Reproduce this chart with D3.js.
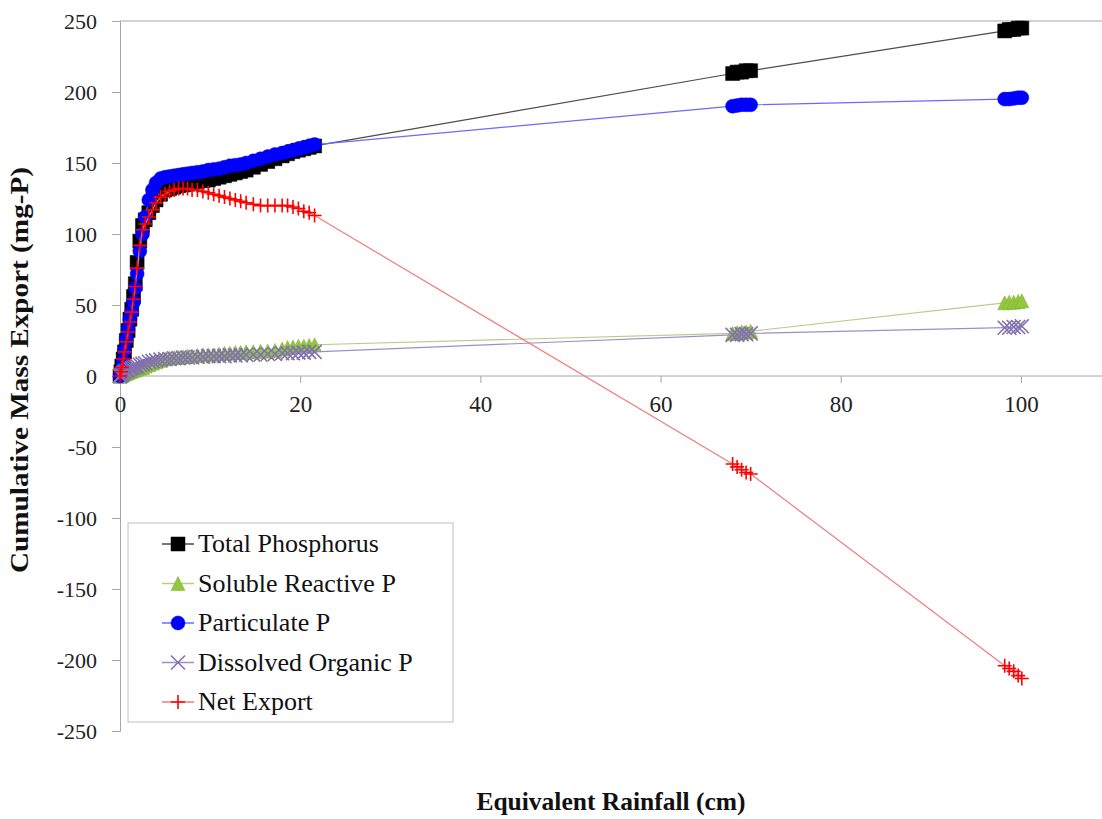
<!DOCTYPE html>
<html>
<head>
<meta charset="utf-8">
<script src="https://cdn.jsdelivr.net/npm/d3@7"></script>
<style>
  body { margin: 0; background: #fff; }
  svg { display: block; }
  svg text { font-family: "Liberation Serif", "Times New Roman", serif !important; }
</style>
</head>
<body>
<div class="graphContainer"></div>
<script>
// shared x values (equivalent rainfall, cm)
var rainfall = [0, 0.1, 0.2, 0.35, 0.5, 0.7, 0.9, 1.1, 1.3, 1.5, 1.7, 1.9, 2.2, 2.5, 2.8, 3.2, 3.6, 4.0, 4.5, 5.0,
    5.5, 6.0, 6.5, 7.0, 7.5, 8.0, 8.6, 9.2, 9.8, 10.4, 11.0, 11.6, 12.2, 12.8, 13.4, 14.0, 14.8, 15.6, 16.4, 17.2,
    18.0, 18.6, 19.2, 19.8, 20.4, 21.0, 21.6, 68.0, 68.5, 69.0, 69.5, 70.0, 98.2, 98.7, 99.2, 99.7, 100.1];

var totalP = [0, 3, 7, 12, 17, 25, 32, 40, 47, 56, 65, 80, 95, 106, 110, 115, 120, 124, 128, 131,
    132, 133, 134, 134.5, 135, 136, 137, 137.5, 138, 139, 140, 141, 142, 143, 144, 145, 147, 149, 151, 153,
    155, 156.5, 158, 159, 160, 161, 162, 213, 214, 214, 215, 215, 243, 244, 244, 245, 245];

var solubleP = [0, 0, 0.5, 1, 1.5, 2, 2.5, 3, 3.5, 4, 4.5, 5, 5.5, 6, 7, 8, 9, 10, 11, 12,
    12.5, 13, 13, 13.5, 14, 14, 14.5, 15, 15, 15, 15.5, 16, 16, 16.5, 16.5, 17, 17, 17.5, 17.5, 18,
    19, 20, 20.5, 21, 21, 21.5, 22, 30, 30.5, 31, 31, 31.5, 51.5, 52, 52, 52.5, 53];

var particulateP = [0, 2, 5, 10, 18, 26, 33, 40, 45, 52, 62, 72, 88, 100, 112, 124, 131, 136, 139, 140,
    140.5, 141, 141.5, 142, 142.5, 143, 143.5, 144, 145, 145.5, 146, 147, 148, 148.5, 149, 150, 151.5, 153, 154.5, 156,
    157, 158, 159, 160, 161, 162, 163, 190, 190.5, 191, 191, 191, 195, 195, 195.5, 196, 196];

var organicP = [0, 0.5, 1, 2, 3, 3.5, 4, 5, 5.5, 6, 6.5, 7, 8, 8.5, 9, 10, 10.5, 11, 11.5, 12,
    12, 12.5, 12.5, 13, 13, 13, 13.5, 13.5, 14, 14, 14, 14, 14.5, 14.5, 14.5, 15, 15, 15, 15.5, 15.5,
    16, 16, 16, 16.5, 16.5, 17, 17, 29, 29, 29.5, 29.5, 30, 34, 34, 34.5, 34.5, 35];

var netExport = [0, 3, 6, 12, 17, 24, 31, 38, 45, 54, 63, 76, 92, 103, 107, 112, 117, 122, 126, 128,
    130, 131, 132, 132, 132, 131, 131, 130, 129, 128, 127, 126, 125, 124, 123, 122, 121, 120, 120, 120,
    120, 120, 119, 118, 116, 115, 113, -62, -64, -66, -68, -69, -204, -206, -208, -211, -213];

var seriesNames = ["Total Phosphorus", "Soluble Reactive P", "Particulate P", "Dissolved Organic P", "Net Export"];
var xTicks = [0, 20, 40, 60, 80, 100];
var yTicks = [-250, -200, -150, -100, -50, 0, 50, 100, 150, 200, 250];

var w = 1102, h = 819;

var x = d3.scaleLinear().domain([0, 110]).range([120, 1111]);
var y = d3.scaleLinear().domain([-250, 250]).range([731, 21]);

var svg = d3.select(".graphContainer")
    .append("svg")
    .attr("width", w)
    .attr("height", h);

// top border line at 250
svg.append("line")
    .attr("x1", x(0)).attr("x2", w)
    .attr("y1", y(250)).attr("y2", y(250))
    .attr("stroke", "#a6a6a6");

// y axis
var yAxis = svg.append("g")
    .attr("transform", "translate(" + x(0) + ",0)")
    .call(d3.axisLeft(y).tickValues(yTicks).tickSize(8).tickPadding(15)
        .tickFormat(function (d) { return String(d); }));
yAxis.select(".domain").attr("stroke", "#a6a6a6");
yAxis.selectAll(".tick line").attr("stroke", "#a6a6a6");
yAxis.selectAll(".tick text")
    .attr("font-size", 22)
    .attr("fill", "#222");

// x axis crossing at 0
var xAxis = svg.append("g")
    .attr("transform", "translate(0," + y(0) + ")")
    .call(d3.axisBottom(x).tickValues(xTicks).tickSize(7).tickPadding(13)
        .tickFormat(function (d) { return String(d); }));
xAxis.select(".domain").attr("stroke", "#a6a6a6").attr("d", "M" + x(0) + ",0H" + w);
xAxis.selectAll(".tick line").attr("stroke", "#a6a6a6");
xAxis.selectAll(".tick text")
    .attr("font-size", 23)
    .attr("fill", "#222");

function marker(type, s) {
    if (type == "square") return "M" + (-s) + "," + (-s) + "H" + s + "V" + s + "H" + (-s) + "Z";
    if (type == "triangle") return "M0," + (-s) + "L" + s + "," + s + "L" + (-s) + "," + s + "Z";
    if (type == "circle") return "M" + (-s) + ",0A" + s + "," + s + " 0 1,0 " + s + ",0A" + s + "," + s + " 0 1,0 " + (-s) + ",0Z";
    if (type == "x") return "M" + (-s) + "," + (-s) + "L" + s + "," + s + "M" + (-s) + "," + s + "L" + s + "," + (-s);
    return "M" + (-s) + ",0H" + s + "M0," + (-s) + "V" + s;
}

var series = [
    { name: seriesNames[0], values: totalP, line: "#4d4d4d", type: "square", fill: "#000", stroke: "#000" },
    { name: seriesNames[1], values: solubleP, line: "#b8cc8a", type: "triangle", fill: "#92c83e", stroke: "#7fae35" },
    { name: seriesNames[2], values: particulateP, line: "#6a6aff", type: "circle", fill: "#0000ff", stroke: "#0000ff" },
    { name: seriesNames[3], values: organicP, line: "#9a90c8", type: "x", fill: "none", stroke: "#8270b0" },
    { name: seriesNames[4], values: netExport, line: "#f07c7c", type: "plus", fill: "none", stroke: "#ff0000" }
];

var line = d3.line()
    .x(function (d) { return x(d[0]); })
    .y(function (d) { return y(d[1]); });

series.forEach(function (s) {
    var pts = rainfall.map(function (r, i) { return [r, s.values[i]]; });
    var g = svg.append("g");
    g.append("path")
        .datum(pts)
        .attr("d", line)
        .attr("fill", "none")
        .attr("stroke", s.line)
        .attr("stroke-width", 1.2);
    g.selectAll("path.mk")
        .data(pts)
        .enter()
        .append("path")
        .attr("class", "mk")
        .attr("transform", function (d) { return "translate(" + x(d[0]) + "," + y(d[1]) + ")"; })
        .attr("d", marker(s.type, 7))
        .attr("fill", s.fill)
        .attr("stroke", s.stroke)
        .attr("stroke-width", (s.type == "x" || s.type == "plus") ? 1.6 : 0.5);
});

// legend
var legend = svg.append("g");
legend.append("rect")
    .attr("x", 128).attr("y", 523)
    .attr("width", 325).attr("height", 199)
    .attr("fill", "#fff")
    .attr("stroke", "#bfbfbf");

series.forEach(function (s, i) {
    var ly = 544 + i * 39.5;
    legend.append("line")
        .attr("x1", 162).attr("x2", 194)
        .attr("y1", ly).attr("y2", ly)
        .attr("stroke", s.line)
        .attr("stroke-width", 1.5);
    legend.append("path")
        .attr("transform", "translate(178," + ly + ")")
        .attr("d", marker(s.type, 7))
        .attr("fill", s.fill)
        .attr("stroke", s.stroke)
        .attr("stroke-width", (s.type == "x" || s.type == "plus") ? 1.6 : 0.5);
    legend.append("text")
        .attr("x", 198).attr("y", ly + 8)
        .attr("font-size", 26)
        .attr("fill", "#111")
        .text(s.name);
});

// axis titles
svg.append("text")
    .attr("x", 611).attr("y", 810)
    .attr("text-anchor", "middle")
    .attr("font-size", 25.5)
    .attr("font-weight", "bold")
    .attr("fill", "#111")
    .text("Equivalent Rainfall (cm)");

svg.append("text")
    .attr("transform", "translate(28,370) rotate(-90)")
    .attr("text-anchor", "middle")
    .attr("font-size", 25)
    .attr("font-weight", "bold")
    .attr("fill", "#111")
    .attr("textLength", 406)
    .attr("lengthAdjust", "spacingAndGlyphs")
    .text("Cumulative Mass Export (mg-P)");
</script>
</body>
</html>
